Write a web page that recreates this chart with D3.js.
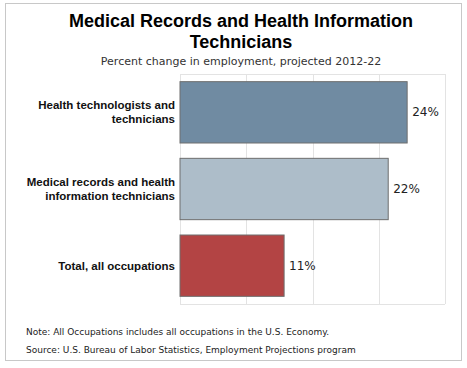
<!DOCTYPE html>
<html>
<head>
<meta charset="utf-8">
<script src="https://cdn.jsdelivr.net/npm/d3@7"></script>
<style>
  body { margin: 0; background: #fff; }
  svg text { font-family: "Liberation Sans", Arial, sans-serif; }
</style>
</head>
<body>
<svg id="chart" width="467" height="368"></svg>
<script>
// data
var categories = [["Health technologists and", "technicians"],
                  ["Medical records and health", "information technicians"],
                  ["Total, all occupations"]];
var values = [24, 22, 11];
var colors = ["#708ba2", "#adbdc9", "#b34444"];
var gridTicks = [0, 7, 14, 21, 28];

var titleLines = ["Medical Records and Health Information", "Technicians"];
var subtitle = "Percent change in employment, projected 2012-22";
var notes = ["Note: All Occupations includes all occupations in the U.S. Economy.",
             "Source: U.S. Bureau of Labor Statistics, Employment Projections program"];

var svg = d3.select("#chart");
var plot = {left: 180, right: 445, top: 74, bottom: 304};

// outer frame
svg.append("rect")
    .attr("x", 5.5).attr("y", 3.5)
    .attr("width", 456).attr("height", 357)
    .attr("fill", "#fff")
    .attr("stroke", "#c8c8c8");

svg.selectAll(".title")
    .data(titleLines)
    .enter().append("text")
    .attr("class", "title")
    .attr("x", 241)
    .attr("y", function(d, i) { return 27 + i * 21; })
    .attr("text-anchor", "middle")
    .style("font-weight", "bold")
    .style("font-size", "18px")
    .text(function(d) { return d; });

svg.append("text")
    .attr("x", 241)
    .attr("y", 65)
    .attr("text-anchor", "middle")
    .style("font-family", "'DejaVu Sans', Verdana, sans-serif")
    .style("font-size", "11px")
    .style("fill", "#333")
    .text(subtitle);

var x = d3.scaleLinear().domain([0, 28]).range([plot.left, plot.right]);
var y = d3.scaleBand().domain(d3.range(values.length))
    .range([plot.top, plot.bottom])
    .paddingInner(0.2).paddingOuter(0.1);

// grid
svg.selectAll(".grid")
    .data(gridTicks)
    .enter().append("line")
    .attr("class", "grid")
    .attr("x1", function(d) { return Math.round(x(d)) + 0.5; })
    .attr("x2", function(d) { return Math.round(x(d)) + 0.5; })
    .attr("y1", plot.top).attr("y2", plot.bottom)
    .attr("stroke", "#e3e3e3");

svg.append("line")
    .attr("x1", plot.left).attr("x2", plot.right)
    .attr("y1", plot.top + 0.5).attr("y2", plot.top + 0.5)
    .attr("stroke", "#e3e3e3");
svg.append("line")
    .attr("x1", plot.left).attr("x2", plot.right)
    .attr("y1", plot.bottom + 0.5).attr("y2", plot.bottom + 0.5)
    .attr("stroke", "#e3e3e3");

// bars
svg.selectAll(".bar")
    .data(values)
    .enter().append("rect")
    .attr("class", "bar")
    .attr("x", x(0))
    .attr("y", function(d, i) { return y(i); })
    .attr("width", function(d) { return x(d) - x(0); })
    .attr("height", y.bandwidth())
    .attr("fill", function(d, i) { return colors[i]; })
    .attr("stroke", "#6e6e6e")
    .attr("stroke-width", 1);

svg.selectAll(".val")
    .data(values)
    .enter().append("text")
    .attr("class", "val")
    .attr("x", function(d) { return x(d) + 5; })
    .attr("y", function(d, i) { return y(i) + y.bandwidth() / 2 + 4; })
    .style("font-family", "'DejaVu Sans', Verdana, sans-serif")
    .style("font-size", "12px")
    .style("fill", "#222")
    .text(function(d) { return d + "%"; });

// category labels
svg.selectAll(".cat")
    .data(categories)
    .enter().append("text")
    .attr("class", "cat")
    .attr("text-anchor", "end")
    .attr("transform", function(d, i) {
        var cy = y(i) + y.bandwidth() / 2 - (d.length - 1) * 7 + 4;
        return "translate(175," + cy + ")";
    })
    .style("font-weight", "bold")
    .style("font-size", "11.5px")
    .style("fill", "#111")
    .each(function(d) {
        var t = d3.select(this);
        d.forEach(function(line, k) {
            t.append("tspan").attr("x", 0).attr("dy", k === 0 ? 0 : 14).text(line);
        });
    });

svg.selectAll(".note")
    .data(notes)
    .enter().append("text")
    .attr("class", "note")
    .attr("x", 26)
    .attr("y", function(d, i) { return 335 + i * 18; })
    .style("font-family", "'DejaVu Sans', Verdana, sans-serif")
    .style("font-size", "9px")
    .style("fill", "#222")
    .text(function(d) { return d; });
</script>
</body>
</html>
